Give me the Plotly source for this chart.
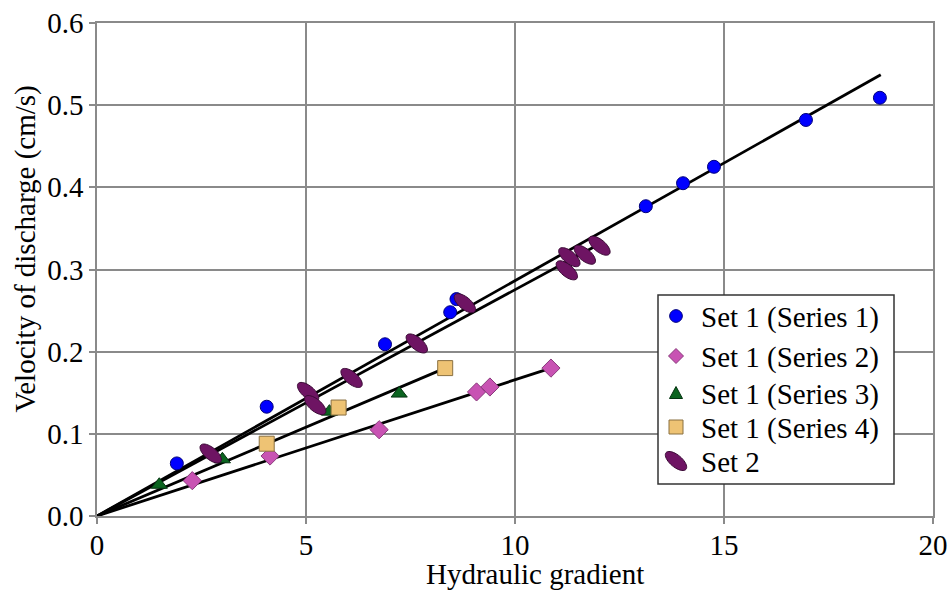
import numpy as np
import plotly.graph_objects as go

# ---- data ----
s1_x = [1.91, 4.06, 6.89, 8.45, 8.60, 13.13, 14.02, 14.76, 16.96, 18.73]
s1_y = [0.064, 0.133, 0.209, 0.248, 0.264, 0.377, 0.405, 0.425, 0.482, 0.509]

s2_x = [2.28, 4.14, 6.75, 9.08, 9.40, 10.86]
s2_y = [0.043, 0.073, 0.105, 0.151, 0.157, 0.180]

s3_x = [1.49, 3.00, 5.56, 7.23]
s3_y = [0.038, 0.069, 0.127, 0.149]

s4_x = [4.06, 5.78, 8.33]
s4_y = [0.088, 0.132, 0.180]

set2_x = [2.72, 5.05, 5.22, 6.09, 7.65, 8.80, 11.24, 11.30, 11.67, 12.02]
set2_y = [0.076, 0.151, 0.135, 0.168, 0.210, 0.259, 0.299, 0.315, 0.318, 0.329]

# trend lines (through origin)
fit1_x = [0, 18.75]
fit1_y = [0, 0.537]
fit2_x = [0, 10.86]
fit2_y = [0, 0.180]
fit34_x = [0, 8.33]
fit34_y = [0, 0.180]
fitset2_x = [0, 12.02]
fitset2_y = [0, 0.331]

x_ticks = [0, 5, 10, 15, 20]
y_ticks = [0.0, 0.1, 0.2, 0.3, 0.4, 0.5, 0.6]

legend_names = ["Set 1 (Series 1)", "Set 1 (Series 2)", "Set 1 (Series 3)",
                "Set 1 (Series 4)", "Set 2"]
x_title = "Hydraulic gradient"
y_title = "Velocity of discharge (cm/s)"

FONT = "Liberation Serif"
FS = 29
GRID = "#8a8a8a"
BLUE, BLUE_L = "#0000ff", "#00007a"
PINK, PINK_L = "#c853b3", "#8a3a7c"
GREEN, GREEN_L = "#0b6420", "#043310"
GOLD, GOLD_L = "#eec374", "#8a7040"
PURPLE, PURPLE_L = "#6e1463", "#3a0a35"

# plot-area geometry (pixels) used for the hand-built legend and titles
L, T, W, H = 97, 23, 836, 493
def px2paper(px, py):
    return (px - L) / W, (T + H - py) / H

fig = go.Figure()

for fx, fy in [(fit1_x, fit1_y), (fit2_x, fit2_y), (fit34_x, fit34_y), (fitset2_x, fitset2_y)]:
    fig.add_trace(go.Scatter(x=fx, y=fy, mode="lines", line=dict(color="black", width=2.8),
                             showlegend=False, hoverinfo="skip"))

fig.add_trace(go.Scatter(x=s1_x, y=s1_y, mode="markers", name=legend_names[0], showlegend=False,
                         marker=dict(symbol="circle", size=13, color=BLUE, line=dict(color=BLUE_L, width=1))))
fig.add_trace(go.Scatter(x=s2_x, y=s2_y, mode="markers", name=legend_names[1], showlegend=False,
                         marker=dict(symbol="diamond", size=14, color=PINK, line=dict(color=PINK_L, width=1))))
fig.add_trace(go.Scatter(x=s3_x, y=s3_y, mode="markers", name=legend_names[2], showlegend=False,
                         marker=dict(symbol="triangle-up", size=14, color=GREEN, line=dict(color=GREEN_L, width=1))))
fig.add_trace(go.Scatter(x=s4_x, y=s4_y, mode="markers", name=legend_names[3], showlegend=False,
                         marker=dict(symbol="square", size=15, color=GOLD, line=dict(color=GOLD_L, width=1))))
fig.add_trace(go.Scatter(x=set2_x, y=set2_y, mode="markers", name=legend_names[4], showlegend=False,
                         marker=dict(symbol="circle", size=12, color="rgba(0,0,0,0)", line=dict(width=0))))

# symbol outlines in pixel offsets (style only)
def ellipse_path(a=13.0, b=6.0, ang_deg=-40.0, n=40):
    t = np.linspace(0, 2 * np.pi, n, endpoint=False)
    ca, sa = np.cos(np.radians(ang_deg)), np.sin(np.radians(ang_deg))
    px = a * np.cos(t) * ca - b * np.sin(t) * sa
    py = a * np.cos(t) * sa + b * np.sin(t) * ca
    return "M" + " L".join(f"{u:.2f},{v:.2f}" for u, v in zip(px, py)) + " Z"

def poly_path(pts):
    return "M" + " L".join(f"{u},{v}" for u, v in pts) + " Z"

EP = ellipse_path()
CIRC = ellipse_path(6.3, 6.3, 0)
DIAM = poly_path([(0, 7.5), (7.5, 0), (0, -7.5), (-7.5, 0)])
TRI = poly_path([(0, 6.5), (6.5, -5.5), (-6.5, -5.5)])
SQR = poly_path([(-7, -7), (7, -7), (7, 7), (-7, 7)])

shapes = []
for xv, yv in zip(set2_x, set2_y):
    shapes.append(dict(type="path", xref="x", yref="y", xsizemode="pixel", ysizemode="pixel",
                       xanchor=xv, yanchor=yv, path=EP, fillcolor=PURPLE,
                       line=dict(color=PURPLE_L, width=1), layer="above"))

# legend box
bx0, by0 = px2paper(658, 484)
bx1, by1 = px2paper(894, 295)
shapes.append(dict(type="rect", xref="paper", yref="paper", x0=bx0, x1=bx1, y0=by0, y1=by1,
                   fillcolor="white", line=dict(color="#333333", width=1.5), layer="above"))

row_y = [316, 356, 393, 427, 461]
sym_paths = [CIRC, DIAM, TRI, SQR, EP]
sym_fill = [(BLUE, BLUE_L), (PINK, PINK_L), (GREEN, GREEN_L), (GOLD, GOLD_L), (PURPLE, PURPLE_L)]
annotations = []
for name, ry, sp, (fc, lc) in zip(legend_names, row_y, sym_paths, sym_fill):
    sx, sy = px2paper(676, ry)
    shapes.append(dict(type="path", xref="paper", yref="paper", xsizemode="pixel", ysizemode="pixel",
                       xanchor=sx, yanchor=sy, path=sp, fillcolor=fc,
                       line=dict(color=lc, width=1), layer="above"))
    tx, ty = px2paper(699, ry + 1)
    annotations.append(dict(text=name, xref="paper", yref="paper", x=tx, y=ty,
                            xanchor="left", yanchor="middle", showarrow=False,
                            font=dict(family=FONT, size=FS, color="black")))

# axis titles (offset like the reference)
xtx, xty = px2paper(534.5, 590.5)
annotations.append(dict(text=x_title, xref="paper", yref="paper", x=xtx, y=xty,
                        xanchor="center", yanchor="bottom", showarrow=False, borderpad=0,
                        font=dict(family=FONT, size=FS, color="black")))
ytx, yty = px2paper(25, 249.5)
annotations.append(dict(text=y_title, xref="paper", yref="paper", x=ytx, y=yty, textangle=-90,
                        xanchor="center", yanchor="middle", showarrow=False,
                        font=dict(family=FONT, size=FS, color="black")))

fig.update_layout(
    width=950, height=591,
    margin=dict(l=L, r=950 - L - W, t=T, b=591 - T - H),
    paper_bgcolor="white", plot_bgcolor="white",
    font=dict(family=FONT, size=FS, color="black"),
    shapes=shapes, annotations=annotations,
    showlegend=False,
)

fig.update_xaxes(range=[0, 20], tickvals=x_ticks, ticktext=[str(v) for v in x_ticks],
                 showgrid=True, gridcolor=GRID, gridwidth=1.5, zeroline=False,
                 showline=True, linecolor=GRID, linewidth=1.5, mirror=True,
                 ticks="outside", ticklen=6, tickcolor=GRID, tickwidth=1.5,
                 ticklabelstandoff=-4,
                 tickfont=dict(family=FONT, size=FS), automargin=False)
fig.update_yaxes(range=[0, 0.6], tickvals=y_ticks, ticktext=[f"{v:.1f}" for v in y_ticks],
                 showgrid=True, gridcolor=GRID, gridwidth=1.5, zeroline=False,
                 showline=True, linecolor=GRID, linewidth=1.5, mirror=True,
                 ticks="outside", ticklen=6, tickcolor=GRID, tickwidth=1.5,
                 tickfont=dict(family=FONT, size=FS), automargin=False)

fig.write_html("out.html", config={"displayModeBar": False},
               post_script="document.body.style.margin='0';")
